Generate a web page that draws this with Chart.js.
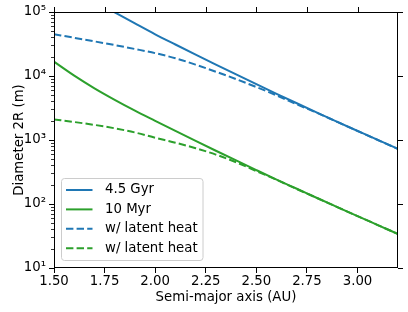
<!DOCTYPE html>
<html>
<head>
<meta charset="utf-8">
<script src="https://cdn.jsdelivr.net/npm/chart.js@4.4.1/dist/chart.umd.min.js"></script>
<style>
  html, body { margin: 0; padding: 0; background: #fff; }
  canvas { display: block; }
</style>
</head>
<body>
<canvas id="myChart" width="408" height="312"></canvas>
<script>
// semi-major axis (AU) where the curves were read
const axisAU = [1.5, 1.6, 1.7, 1.8, 1.9, 2.0, 2.1, 2.2, 2.3, 2.4, 2.5, 2.6, 2.7, 2.8, 2.9, 3.0, 3.1, 3.2];
const gyrAU  = [1.75, 1.8, 1.9, 2.0, 2.1, 2.2, 2.3, 2.4, 2.5, 2.6, 2.7, 2.8, 2.9, 3.0, 3.1, 3.2];

// diameter 2R (m)
const gyrDiameter = [120000, 98900, 66400, 44870, 31050, 21580, 15070, 10570, 7450, 5270, 3750, 2680, 1923, 1387, 1002, 726];
const myrDiameter = [16750, 10140, 6430, 4250, 2880, 1995, 1387, 968, 679, 479, 339, 241, 173, 124, 89.5, 64.7, 46.9, 34.0];
const gyrLatent   = [44870, 39540, 34750, 30410, 26420, 22750, 18920, 15030, 11670, 8950, 6710, 4980, 3610, 2655, 1914, 1384, 1000, 724];
const myrLatent   = [2100, 1910, 1722, 1524, 1312, 1084, 908, 745, 592, 449, 327, 239, 171, 124, 89.5, 64.7, 46.9, 34.0];

const seriesLabels = ['4.5 Gyr', '10 Myr', 'w/ latent heat', 'w/ latent heat'];
const xTicks = [1.5, 1.75, 2.0, 2.25, 2.5, 2.75, 3.0];
const yTicks = [10, 100, 1000, 10000, 100000];

const BLUE = '#1f77b4';
const GREEN = '#2ca02c';
const FONT = '"DejaVu Sans", sans-serif';
const sup = ['⁰', '¹', '²', '³', '⁴', '⁵', '⁶'];

function pts(xs, ys) {
    return xs.map((x, i) => ({ x: x, y: ys[i] }));
}

// spines, top/right ticks, minor ticks and the boxed legend (like matplotlib)
const framePlugin = {
    id: 'framePlugin',
    afterDraw(chart) {
        const ctx = chart.ctx;
        const a = chart.chartArea;
        const xs = chart.scales.x;
        const ys = chart.scales.y;
        ctx.save();
        ctx.strokeStyle = '#000';
        ctx.lineWidth = 1;
        ctx.strokeRect(a.left + 0.5, a.top + 0.5, a.right - a.left - 1, a.bottom - a.top - 1);

        ctx.beginPath();
        xTicks.forEach(t => {
            const px = Math.round(xs.getPixelForValue(t)) + 0.5;
            ctx.moveTo(px, a.top);
            ctx.lineTo(px, a.top - 5);
        });
        yTicks.forEach(t => {
            const py = Math.round(ys.getPixelForValue(t)) + 0.5;
            ctx.moveTo(a.right, py);
            ctx.lineTo(a.right + 5, py);
        });
        ctx.stroke();

        ctx.lineWidth = 0.8;
        ctx.beginPath();
        for (let k = 1; k < 5; k++) {
            for (let m = 2; m < 10; m++) {
                const py = Math.round(ys.getPixelForValue(m * Math.pow(10, k))) + 0.5;
                ctx.moveTo(a.left, py);
                ctx.lineTo(a.left - 3, py);
            }
        }
        ctx.stroke();

        // legend
        const bx = a.left + 7.5, by = a.top + 166.5, bw = 141.5, bh = 82;
        ctx.fillStyle = 'rgba(255,255,255,0.8)';
        ctx.strokeStyle = '#cccccc';
        ctx.lineWidth = 1;
        ctx.beginPath();
        if (ctx.roundRect) ctx.roundRect(bx, by, bw, bh, 3); else ctx.rect(bx, by, bw, bh);
        ctx.fill();
        ctx.stroke();

        ctx.font = '13.3px ' + FONT;
        ctx.textBaseline = 'middle';
        ctx.textAlign = 'left';
        chart.data.datasets.forEach((ds, i) => {
            const ry = by + 11.5 + i * 19.4;
            ctx.strokeStyle = ds.borderColor;
            ctx.lineWidth = 2;
            ctx.setLineDash(ds.borderDash || []);
            ctx.beginPath();
            ctx.moveTo(bx + 4.5, ry);
            ctx.lineTo(bx + 31, ry);
            ctx.stroke();
            ctx.setLineDash([]);
            ctx.fillStyle = '#000';
            ctx.fillText(ds.label, bx + 43.5, ry);
        });
        ctx.restore();
    }
};

const ctx = document.getElementById('myChart').getContext('2d');
const myChart = new Chart(ctx, {
    type: 'line',
    data: {
        datasets: [
            { label: seriesLabels[0], data: pts(gyrAU, gyrDiameter), borderColor: BLUE, order: 2 },
            { label: seriesLabels[1], data: pts(axisAU, myrDiameter), borderColor: GREEN, order: 2 },
            { label: seriesLabels[2], data: pts(axisAU, gyrLatent), borderColor: BLUE, borderDash: [7.4, 3.2], order: 1 },
            { label: seriesLabels[3], data: pts(axisAU, myrLatent), borderColor: GREEN, borderDash: [7.4, 3.2], order: 1 }
        ]
    },
    options: {
        responsive: false,
        animation: false,
        events: [],
        layout: { padding: { left: 0, right: 10, top: 12, bottom: 0 } },
        elements: {
            point: { radius: 0 },
            line: { borderWidth: 2, fill: false, cubicInterpolationMode: 'monotone' }
        },
        plugins: {
            legend: { display: false },
            tooltip: { enabled: false }
        },
        scales: {
            x: {
                type: 'linear',
                min: 1.5,
                max: 3.2,
                afterBuildTicks: s => { s.ticks = xTicks.map(v => ({ value: v })); },
                afterFit: s => { s.height = 44; },
                grid: { drawOnChartArea: false, drawTicks: true, tickLength: 5, tickColor: '#000', tickWidth: 1 },
                border: { display: false },
                ticks: {
                    autoSkip: false,
                    maxRotation: 0,
                    padding: 1,
                    color: '#000',
                    font: { family: FONT, size: 13.3 },
                    callback: v => Number(v).toFixed(2)
                },
                title: {
                    display: true,
                    text: 'Semi-major axis (AU)',
                    color: '#000',
                    font: { family: FONT, size: 13.3 },
                    padding: { top: 0, bottom: 6 }
                }
            },
            y: {
                type: 'logarithmic',
                min: 10,
                max: 100000,
                afterBuildTicks: s => { s.ticks = yTicks.map(v => ({ value: v })); },
                afterFit: s => { s.width = 54; },
                grid: { drawOnChartArea: false, drawTicks: true, tickLength: 5, tickColor: '#000', tickWidth: 1 },
                border: { display: false },
                ticks: {
                    autoSkip: false,
                    padding: 3,
                    color: '#000',
                    font: { family: FONT, size: 13.3 },
                    callback: v => '10' + sup[Math.round(Math.log10(v))]
                },
                title: {
                    display: true,
                    text: 'Diameter 2R (m)',
                    color: '#000',
                    font: { family: FONT, size: 13.3 },
                    padding: { top: 12, bottom: 0 }
                }
            }
        }
    },
    plugins: [framePlugin]
});
</script>
</body>
</html>
